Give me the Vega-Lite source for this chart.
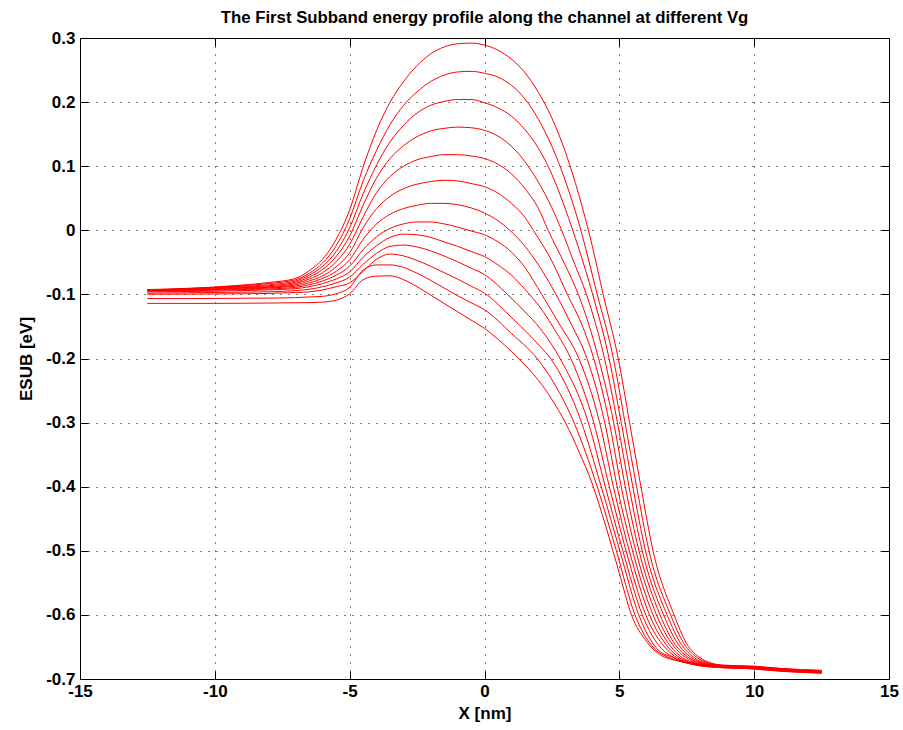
{
"$schema": "https://vega.github.io/schema/vega-lite/v6.json",
"width": 809, "height": 641,
"autosize": {"type": "none"},
"padding": {"left": 80, "top": 38, "right": 14, "bottom": 51},
"background": "white",
"config": {"font": "Liberation Sans", "view": {"stroke": "#000", "strokeWidth": 1}},
"title": {"text": "The First Subband energy profile along the channel at different Vg", "fontSize": 16.8, "fontWeight": "bold", "color": "#000", "anchor": "middle", "frame": "group", "baseline": "alphabetic", "offset": -11},
"data": {"values": [
{"c":1,"x":-12.5,"y":-0.0925},{"c":1,"x":-11,"y":-0.0905},{"c":1,"x":-10,"y":-0.0885},{"c":1,"x":-9,"y":-0.0855},{"c":1,"x":-8,"y":-0.0815},{"c":1,"x":-7,"y":-0.075},{"c":1,"x":-6.5,"y":-0.063},{"c":1,"x":-6,"y":-0.045},{"c":1,"x":-5.5,"y":-0.014},{"c":1,"x":-5,"y":0.032},{"c":1,"x":-4.5,"y":0.099},{"c":1,"x":-4,"y":0.156},{"c":1,"x":-3.5,"y":0.2},{"c":1,"x":-3,"y":0.232},{"c":1,"x":-2.5,"y":0.257},{"c":1,"x":-2,"y":0.275},{"c":1,"x":-1.5,"y":0.286},{"c":1,"x":-1,"y":0.291},{"c":1,"x":-0.5,"y":0.292},{"c":1,"x":0,"y":0.289},{"c":1,"x":0.5,"y":0.281},{"c":1,"x":1,"y":0.267},{"c":1,"x":1.5,"y":0.246},{"c":1,"x":2,"y":0.215},{"c":1,"x":2.5,"y":0.175},{"c":1,"x":3,"y":0.122},{"c":1,"x":3.5,"y":0.055},{"c":1,"x":4,"y":-0.025},{"c":1,"x":4.4,"y":-0.1},{"c":1,"x":4.96,"y":-0.2},{"c":1,"x":5.38,"y":-0.3},{"c":1,"x":5.8,"y":-0.4},{"c":1,"x":6.25,"y":-0.5},{"c":1,"x":7.03,"y":-0.6},{"c":1,"x":7.5,"y":-0.645},{"c":1,"x":8,"y":-0.667},{"c":1,"x":8.4,"y":-0.675},{"c":1,"x":8.9,"y":-0.6785},{"c":1,"x":10,"y":-0.68},{"c":1,"x":11,"y":-0.6835},{"c":1,"x":12.5,"y":-0.6865},
{"c":2,"x":-12.5,"y":-0.093},{"c":2,"x":-11,"y":-0.091},{"c":2,"x":-10,"y":-0.089},{"c":2,"x":-9,"y":-0.0865},{"c":2,"x":-8,"y":-0.083},{"c":2,"x":-7,"y":-0.077},{"c":2,"x":-6.5,"y":-0.067},{"c":2,"x":-6,"y":-0.051},{"c":2,"x":-5.5,"y":-0.024},{"c":2,"x":-5,"y":0.018},{"c":2,"x":-4.5,"y":0.077},{"c":2,"x":-4,"y":0.125},{"c":2,"x":-3.5,"y":0.165},{"c":2,"x":-3,"y":0.195},{"c":2,"x":-2.5,"y":0.216},{"c":2,"x":-2,"y":0.232},{"c":2,"x":-1.5,"y":0.242},{"c":2,"x":-1,"y":0.247},{"c":2,"x":-0.5,"y":0.248},{"c":2,"x":0,"y":0.245},{"c":2,"x":0.5,"y":0.239},{"c":2,"x":1,"y":0.226},{"c":2,"x":1.5,"y":0.205},{"c":2,"x":2,"y":0.173},{"c":2,"x":2.5,"y":0.131},{"c":2,"x":3,"y":0.077},{"c":2,"x":3.5,"y":0.011},{"c":2,"x":4.18,"y":-0.1},{"c":2,"x":4.78,"y":-0.2},{"c":2,"x":5.21,"y":-0.3},{"c":2,"x":5.64,"y":-0.4},{"c":2,"x":6.1,"y":-0.5},{"c":2,"x":6.9,"y":-0.6},{"c":2,"x":7.4,"y":-0.645},{"c":2,"x":7.9,"y":-0.667},{"c":2,"x":8.3,"y":-0.675},{"c":2,"x":8.85,"y":-0.6788},{"c":2,"x":10,"y":-0.6804},{"c":2,"x":11,"y":-0.6839},{"c":2,"x":12.5,"y":-0.6869},
{"c":3,"x":-12.5,"y":-0.093},{"c":3,"x":-11,"y":-0.0915},{"c":3,"x":-10,"y":-0.0895},{"c":3,"x":-9,"y":-0.0875},{"c":3,"x":-8,"y":-0.085},{"c":3,"x":-7,"y":-0.079},{"c":3,"x":-6.5,"y":-0.07},{"c":3,"x":-6,"y":-0.056},{"c":3,"x":-5.5,"y":-0.033},{"c":3,"x":-5,"y":0.004},{"c":3,"x":-4.5,"y":0.057},{"c":3,"x":-4,"y":0.102},{"c":3,"x":-3.5,"y":0.138},{"c":3,"x":-3,"y":0.164},{"c":3,"x":-2.5,"y":0.183},{"c":3,"x":-2,"y":0.195},{"c":3,"x":-1.5,"y":0.201},{"c":3,"x":-1,"y":0.204},{"c":3,"x":-0.5,"y":0.204},{"c":3,"x":0,"y":0.199},{"c":3,"x":0.5,"y":0.191},{"c":3,"x":1,"y":0.178},{"c":3,"x":1.5,"y":0.157},{"c":3,"x":2,"y":0.128},{"c":3,"x":2.5,"y":0.087},{"c":3,"x":3,"y":0.033},{"c":3,"x":3.5,"y":-0.029},{"c":3,"x":4.01,"y":-0.1},{"c":3,"x":4.62,"y":-0.2},{"c":3,"x":5.07,"y":-0.3},{"c":3,"x":5.5,"y":-0.4},{"c":3,"x":5.97,"y":-0.5},{"c":3,"x":6.77,"y":-0.6},{"c":3,"x":7.3,"y":-0.646},{"c":3,"x":7.75,"y":-0.666},{"c":3,"x":8.2,"y":-0.675},{"c":3,"x":8.8,"y":-0.679},{"c":3,"x":10,"y":-0.6808},{"c":3,"x":11,"y":-0.6843},{"c":3,"x":12.5,"y":-0.6873},
{"c":4,"x":-12.5,"y":-0.093},{"c":4,"x":-11,"y":-0.092},{"c":4,"x":-10,"y":-0.09},{"c":4,"x":-9,"y":-0.0885},{"c":4,"x":-8,"y":-0.0865},{"c":4,"x":-7,"y":-0.081},{"c":4,"x":-6.5,"y":-0.073},{"c":4,"x":-6,"y":-0.061},{"c":4,"x":-5.5,"y":-0.041},{"c":4,"x":-5,"y":-0.009},{"c":4,"x":-4.5,"y":0.039},{"c":4,"x":-4,"y":0.082},{"c":4,"x":-3.5,"y":0.112},{"c":4,"x":-3,"y":0.132},{"c":4,"x":-2.5,"y":0.146},{"c":4,"x":-2,"y":0.155},{"c":4,"x":-1.5,"y":0.159},{"c":4,"x":-1,"y":0.161},{"c":4,"x":-0.5,"y":0.16},{"c":4,"x":0,"y":0.156},{"c":4,"x":0.5,"y":0.147},{"c":4,"x":1,"y":0.131},{"c":4,"x":1.5,"y":0.107},{"c":4,"x":2,"y":0.075},{"c":4,"x":2.5,"y":0.035},{"c":4,"x":2.86,"y":0},{"c":4,"x":3.3,"y":-0.048},{"c":4,"x":3.78,"y":-0.1},{"c":4,"x":4.45,"y":-0.2},{"c":4,"x":4.93,"y":-0.3},{"c":4,"x":5.36,"y":-0.4},{"c":4,"x":5.85,"y":-0.5},{"c":4,"x":6.64,"y":-0.6},{"c":4,"x":7.2,"y":-0.647},{"c":4,"x":7.65,"y":-0.666},{"c":4,"x":8.1,"y":-0.675},{"c":4,"x":8.75,"y":-0.6793},{"c":4,"x":10,"y":-0.6811},{"c":4,"x":11,"y":-0.6846},{"c":4,"x":12.5,"y":-0.6876},
{"c":5,"x":-12.5,"y":-0.0935},{"c":5,"x":-11,"y":-0.0925},{"c":5,"x":-10,"y":-0.091},{"c":5,"x":-9,"y":-0.0895},{"c":5,"x":-8,"y":-0.088},{"c":5,"x":-7,"y":-0.083},{"c":5,"x":-6.5,"y":-0.076},{"c":5,"x":-6,"y":-0.066},{"c":5,"x":-5.5,"y":-0.049},{"c":5,"x":-5,"y":-0.022},{"c":5,"x":-4.5,"y":0.021},{"c":5,"x":-4,"y":0.059},{"c":5,"x":-3.5,"y":0.084},{"c":5,"x":-3,"y":0.1},{"c":5,"x":-2.5,"y":0.11},{"c":5,"x":-2,"y":0.115},{"c":5,"x":-1.5,"y":0.118},{"c":5,"x":-1,"y":0.118},{"c":5,"x":-0.5,"y":0.116},{"c":5,"x":0,"y":0.112},{"c":5,"x":0.5,"y":0.103},{"c":5,"x":1,"y":0.088},{"c":5,"x":1.5,"y":0.065},{"c":5,"x":2,"y":0.034},{"c":5,"x":2.36,"y":0},{"c":5,"x":3,"y":-0.055},{"c":5,"x":3.48,"y":-0.1},{"c":5,"x":4.23,"y":-0.2},{"c":5,"x":4.79,"y":-0.3},{"c":5,"x":5.22,"y":-0.4},{"c":5,"x":5.73,"y":-0.5},{"c":5,"x":6.51,"y":-0.6},{"c":5,"x":7.1,"y":-0.648},{"c":5,"x":7.55,"y":-0.666},{"c":5,"x":8,"y":-0.675},{"c":5,"x":8.7,"y":-0.6795},{"c":5,"x":10,"y":-0.6815},{"c":5,"x":11,"y":-0.685},{"c":5,"x":12.5,"y":-0.688},
{"c":6,"x":-12.5,"y":-0.094},{"c":6,"x":-11,"y":-0.093},{"c":6,"x":-10,"y":-0.092},{"c":6,"x":-9,"y":-0.0905},{"c":6,"x":-8,"y":-0.089},{"c":6,"x":-7,"y":-0.085},{"c":6,"x":-6.5,"y":-0.079},{"c":6,"x":-6,"y":-0.071},{"c":6,"x":-5.5,"y":-0.057},{"c":6,"x":-5,"y":-0.035},{"c":6,"x":-4.5,"y":0.004},{"c":6,"x":-4,"y":0.034},{"c":6,"x":-3.5,"y":0.053},{"c":6,"x":-3,"y":0.065},{"c":6,"x":-2.5,"y":0.072},{"c":6,"x":-2,"y":0.076},{"c":6,"x":-1.5,"y":0.078},{"c":6,"x":-1,"y":0.077},{"c":6,"x":-0.5,"y":0.073},{"c":6,"x":0,"y":0.068},{"c":6,"x":0.5,"y":0.058},{"c":6,"x":1,"y":0.042},{"c":6,"x":1.5,"y":0.02},{"c":6,"x":1.81,"y":0},{"c":6,"x":2.5,"y":-0.048},{"c":6,"x":3.07,"y":-0.1},{"c":6,"x":3.6,"y":-0.146},{"c":6,"x":4.05,"y":-0.2},{"c":6,"x":4.63,"y":-0.3},{"c":6,"x":5.07,"y":-0.4},{"c":6,"x":5.61,"y":-0.5},{"c":6,"x":6.38,"y":-0.6},{"c":6,"x":7,"y":-0.648},{"c":6,"x":7.45,"y":-0.666},{"c":6,"x":7.9,"y":-0.675},{"c":6,"x":8.65,"y":-0.6798},{"c":6,"x":10,"y":-0.6819},{"c":6,"x":11,"y":-0.6854},{"c":6,"x":12.5,"y":-0.6884},
{"c":7,"x":-12.5,"y":-0.094},{"c":7,"x":-11,"y":-0.0935},{"c":7,"x":-10,"y":-0.0925},{"c":7,"x":-9,"y":-0.0915},{"c":7,"x":-8,"y":-0.09},{"c":7,"x":-7,"y":-0.087},{"c":7,"x":-6.5,"y":-0.082},{"c":7,"x":-6,"y":-0.075},{"c":7,"x":-5.5,"y":-0.064},{"c":7,"x":-5,"y":-0.046},{"c":7,"x":-4.5,"y":-0.014},{"c":7,"x":-4,"y":0.01},{"c":7,"x":-3.5,"y":0.025},{"c":7,"x":-3,"y":0.034},{"c":7,"x":-2.5,"y":0.039},{"c":7,"x":-2,"y":0.042},{"c":7,"x":-1.5,"y":0.042},{"c":7,"x":-1,"y":0.04},{"c":7,"x":-0.5,"y":0.035},{"c":7,"x":0,"y":0.027},{"c":7,"x":0.5,"y":0.015},{"c":7,"x":0.94,"y":0},{"c":7,"x":1.5,"y":-0.025},{"c":7,"x":2,"y":-0.054},{"c":7,"x":2.65,"y":-0.1},{"c":7,"x":3.2,"y":-0.145},{"c":7,"x":3.8,"y":-0.2},{"c":7,"x":4.46,"y":-0.3},{"c":7,"x":4.92,"y":-0.4},{"c":7,"x":5.49,"y":-0.5},{"c":7,"x":6.25,"y":-0.6},{"c":7,"x":6.9,"y":-0.649},{"c":7,"x":7.35,"y":-0.667},{"c":7,"x":7.8,"y":-0.675},{"c":7,"x":8.6,"y":-0.68},{"c":7,"x":10,"y":-0.6823},{"c":7,"x":11,"y":-0.6858},{"c":7,"x":12.5,"y":-0.6888},
{"c":8,"x":-12.5,"y":-0.095},{"c":8,"x":-11,"y":-0.0945},{"c":8,"x":-10,"y":-0.0935},{"c":8,"x":-9,"y":-0.0925},{"c":8,"x":-8,"y":-0.0915},{"c":8,"x":-7,"y":-0.089},{"c":8,"x":-6.5,"y":-0.085},{"c":8,"x":-6,"y":-0.079},{"c":8,"x":-5.5,"y":-0.07},{"c":8,"x":-5,"y":-0.056},{"c":8,"x":-4.5,"y":-0.03},{"c":8,"x":-4,"y":-0.01},{"c":8,"x":-3.5,"y":0.003},{"c":8,"x":-3,"y":0.01},{"c":8,"x":-2.5,"y":0.013},{"c":8,"x":-2,"y":0.013},{"c":8,"x":-1.5,"y":0.01},{"c":8,"x":-1,"y":0.005},{"c":8,"x":-0.5,"y":-0.001},{"c":8,"x":0,"y":-0.007},{"c":8,"x":0.5,"y":-0.018},{"c":8,"x":1,"y":-0.034},{"c":8,"x":1.5,"y":-0.058},{"c":8,"x":2.12,"y":-0.1},{"c":8,"x":2.8,"y":-0.148},{"c":8,"x":3.5,"y":-0.2},{"c":8,"x":4.27,"y":-0.3},{"c":8,"x":4.78,"y":-0.4},{"c":8,"x":5.37,"y":-0.5},{"c":8,"x":6.12,"y":-0.6},{"c":8,"x":6.8,"y":-0.65},{"c":8,"x":7.25,"y":-0.667},{"c":8,"x":7.7,"y":-0.675},{"c":8,"x":8.55,"y":-0.6803},{"c":8,"x":10,"y":-0.6826},{"c":8,"x":11,"y":-0.6861},{"c":8,"x":12.5,"y":-0.6891},
{"c":9,"x":-12.5,"y":-0.096},{"c":9,"x":-11,"y":-0.0955},{"c":9,"x":-10,"y":-0.095},{"c":9,"x":-9,"y":-0.094},{"c":9,"x":-8,"y":-0.093},{"c":9,"x":-7,"y":-0.091},{"c":9,"x":-6.5,"y":-0.088},{"c":9,"x":-6,"y":-0.083},{"c":9,"x":-5.5,"y":-0.076},{"c":9,"x":-5,"y":-0.065},{"c":9,"x":-4.5,"y":-0.042},{"c":9,"x":-4,"y":-0.024},{"c":9,"x":-3.5,"y":-0.011},{"c":9,"x":-3,"y":-0.006},{"c":9,"x":-2.5,"y":-0.007},{"c":9,"x":-2,"y":-0.011},{"c":9,"x":-1.5,"y":-0.018},{"c":9,"x":-1,"y":-0.025},{"c":9,"x":-0.5,"y":-0.033},{"c":9,"x":0,"y":-0.041},{"c":9,"x":0.5,"y":-0.054},{"c":9,"x":1,"y":-0.07},{"c":9,"x":1.5,"y":-0.092},{"c":9,"x":2.06,"y":-0.12},{"c":9,"x":2.6,"y":-0.155},{"c":9,"x":3.2,"y":-0.2},{"c":9,"x":4.05,"y":-0.3},{"c":9,"x":4.63,"y":-0.4},{"c":9,"x":5.25,"y":-0.5},{"c":9,"x":5.98,"y":-0.6},{"c":9,"x":6.7,"y":-0.651},{"c":9,"x":7.15,"y":-0.667},{"c":9,"x":7.6,"y":-0.675},{"c":9,"x":8.5,"y":-0.6805},{"c":9,"x":10,"y":-0.683},{"c":9,"x":11,"y":-0.6865},{"c":9,"x":12.5,"y":-0.6895},
{"c":10,"x":-12.5,"y":-0.098},{"c":10,"x":-11,"y":-0.0975},{"c":10,"x":-10,"y":-0.097},{"c":10,"x":-9,"y":-0.0965},{"c":10,"x":-8,"y":-0.096},{"c":10,"x":-7,"y":-0.094},{"c":10,"x":-6.5,"y":-0.092},{"c":10,"x":-6,"y":-0.088},{"c":10,"x":-5.5,"y":-0.082},{"c":10,"x":-5,"y":-0.073},{"c":10,"x":-4.5,"y":-0.053},{"c":10,"x":-4,"y":-0.036},{"c":10,"x":-3.5,"y":-0.025},{"c":10,"x":-3,"y":-0.023},{"c":10,"x":-2.5,"y":-0.026},{"c":10,"x":-2,"y":-0.032},{"c":10,"x":-1.5,"y":-0.04},{"c":10,"x":-1,"y":-0.049},{"c":10,"x":-0.5,"y":-0.059},{"c":10,"x":0,"y":-0.069},{"c":10,"x":0.85,"y":-0.1},{"c":10,"x":1.5,"y":-0.127},{"c":10,"x":2.06,"y":-0.153},{"c":10,"x":2.8,"y":-0.2},{"c":10,"x":3.85,"y":-0.3},{"c":10,"x":4.48,"y":-0.4},{"c":10,"x":5.13,"y":-0.5},{"c":10,"x":5.85,"y":-0.6},{"c":10,"x":6.55,"y":-0.652},{"c":10,"x":7.05,"y":-0.667},{"c":10,"x":7.5,"y":-0.675},{"c":10,"x":8.45,"y":-0.6808},{"c":10,"x":10,"y":-0.6834},{"c":10,"x":11,"y":-0.6869},{"c":10,"x":12.5,"y":-0.6899},
{"c":11,"x":-12.5,"y":-0.0997},{"c":11,"x":-11,"y":-0.0995},{"c":11,"x":-10,"y":-0.0993},{"c":11,"x":-9,"y":-0.099},{"c":11,"x":-8,"y":-0.0985},{"c":11,"x":-7,"y":-0.097},{"c":11,"x":-6.5,"y":-0.096},{"c":11,"x":-6,"y":-0.093},{"c":11,"x":-5.5,"y":-0.088},{"c":11,"x":-5,"y":-0.082},{"c":11,"x":-4.5,"y":-0.064},{"c":11,"x":-4,"y":-0.045},{"c":11,"x":-3.5,"y":-0.037},{"c":11,"x":-3,"y":-0.04},{"c":11,"x":-2.5,"y":-0.047},{"c":11,"x":-2,"y":-0.056},{"c":11,"x":-1.5,"y":-0.066},{"c":11,"x":-1,"y":-0.076},{"c":11,"x":-0.5,"y":-0.087},{"c":11,"x":0,"y":-0.098},{"c":11,"x":1,"y":-0.136},{"c":11,"x":2.06,"y":-0.181},{"c":11,"x":2.45,"y":-0.2},{"c":11,"x":3.6,"y":-0.3},{"c":11,"x":4.33,"y":-0.4},{"c":11,"x":5.02,"y":-0.5},{"c":11,"x":5.72,"y":-0.6},{"c":11,"x":6.4,"y":-0.653},{"c":11,"x":6.95,"y":-0.666},{"c":11,"x":7.4,"y":-0.673},{"c":11,"x":8.4,"y":-0.681},{"c":11,"x":10,"y":-0.6838},{"c":11,"x":11,"y":-0.6873},{"c":11,"x":12.5,"y":-0.6903},
{"c":12,"x":-12.5,"y":-0.1065},{"c":12,"x":-11,"y":-0.1065},{"c":12,"x":-10,"y":-0.1063},{"c":12,"x":-9,"y":-0.106},{"c":12,"x":-8,"y":-0.1058},{"c":12,"x":-7,"y":-0.105},{"c":12,"x":-6.5,"y":-0.104},{"c":12,"x":-6,"y":-0.103},{"c":12,"x":-5.5,"y":-0.099},{"c":12,"x":-5,"y":-0.089},{"c":12,"x":-4.5,"y":-0.062},{"c":12,"x":-4,"y":-0.054},{"c":12,"x":-3.5,"y":-0.054},{"c":12,"x":-3,"y":-0.058},{"c":12,"x":-2.5,"y":-0.067},{"c":12,"x":-2,"y":-0.078},{"c":12,"x":-1.5,"y":-0.09},{"c":12,"x":-1,"y":-0.102},{"c":12,"x":-0.5,"y":-0.113},{"c":12,"x":0,"y":-0.124},{"c":12,"x":1,"y":-0.161},{"c":12,"x":1.95,"y":-0.2},{"c":12,"x":2.6,"y":-0.24},{"c":12,"x":3.32,"y":-0.3},{"c":12,"x":4.18,"y":-0.4},{"c":12,"x":4.89,"y":-0.5},{"c":12,"x":5.58,"y":-0.6},{"c":12,"x":6.2,"y":-0.648},{"c":12,"x":6.8,"y":-0.666},{"c":12,"x":7.3,"y":-0.673},{"c":12,"x":8.35,"y":-0.6813},{"c":12,"x":10,"y":-0.6841},{"c":12,"x":11,"y":-0.6876},{"c":12,"x":12.5,"y":-0.6906},
{"c":13,"x":-12.5,"y":-0.114},{"c":13,"x":-11,"y":-0.114},{"c":13,"x":-10,"y":-0.114},{"c":13,"x":-9,"y":-0.1138},{"c":13,"x":-8,"y":-0.1135},{"c":13,"x":-7,"y":-0.113},{"c":13,"x":-6.5,"y":-0.1128},{"c":13,"x":-6,"y":-0.112},{"c":13,"x":-5.5,"y":-0.109},{"c":13,"x":-5,"y":-0.099},{"c":13,"x":-4.5,"y":-0.077},{"c":13,"x":-4,"y":-0.0715},{"c":13,"x":-3.5,"y":-0.071},{"c":13,"x":-3,"y":-0.077},{"c":13,"x":-2.5,"y":-0.088},{"c":13,"x":-2,"y":-0.101},{"c":13,"x":-1.5,"y":-0.114},{"c":13,"x":-1,"y":-0.127},{"c":13,"x":-0.5,"y":-0.14},{"c":13,"x":0,"y":-0.153},{"c":13,"x":0.5,"y":-0.17},{"c":13,"x":1,"y":-0.189},{"c":13,"x":1.5,"y":-0.21},{"c":13,"x":2,"y":-0.234},{"c":13,"x":2.5,"y":-0.264},{"c":13,"x":3,"y":-0.3},{"c":13,"x":3.5,"y":-0.345},{"c":13,"x":4,"y":-0.396},{"c":13,"x":4.5,"y":-0.462},{"c":13,"x":5,"y":-0.535},{"c":13,"x":5.45,"y":-0.6},{"c":13,"x":6,"y":-0.641},{"c":13,"x":6.5,"y":-0.662},{"c":13,"x":7,"y":-0.67},{"c":13,"x":7.75,"y":-0.676},{"c":13,"x":8.6,"y":-0.6815},{"c":13,"x":10,"y":-0.6845},{"c":13,"x":11,"y":-0.688},{"c":13,"x":12.5,"y":-0.691}
]},
"layer": [
{"mark": {"type": "line", "color": "#ff0000", "strokeWidth": 1, "interpolate": "monotone"},
 "encoding": {
  "x": {"field": "x", "type": "quantitative", "scale": {"domain": [-15, 15], "nice": false, "zero": false},
        "axis": {"orient": "bottom", "values": [-15, -10, -5, 0, 5, 10, 15], "labelExpr": "replace(format(datum.value, 'd'), '\u2212', '-')", "labelFlush": false,
                 "grid": true, "gridColor": "#000", "gridDash": [1, 7], "gridOpacity": 1, "gridWidth": 1,
                 "domain": false, "ticks": true, "tickSize": -8, "tickColor": "#000", "tickWidth": 1,
                 "labelFontSize": 17, "labelFontWeight": "bold", "labelColor": "#000", "labelPadding": 12,
                 "title": "X [nm]", "titleFontSize": 17, "titleFontWeight": "bold", "titleColor": "#000", "titlePadding": 6}},
  "y": {"field": "y", "type": "quantitative", "scale": {"domain": [-0.7, 0.3], "nice": false, "zero": false},
        "axis": {"orient": "left", "values": [-0.7, -0.6, -0.5, -0.4, -0.3, -0.2, -0.1, 0, 0.1, 0.2, 0.3], "labelExpr": "replace(format(datum.value, '.1~f'), '\u2212', '-')", "labelFlush": false,
                 "grid": true, "gridColor": "#000", "gridDash": [1, 7], "gridOpacity": 1, "gridWidth": 1,
                 "domain": false, "ticks": true, "tickSize": -8, "tickColor": "#000", "tickWidth": 1,
                 "labelFontSize": 17, "labelFontWeight": "bold", "labelColor": "#000", "labelPadding": 13,
                 "title": "ESUB [eV]", "titleFontSize": 17, "titleFontWeight": "bold", "titleColor": "#000", "titlePadding": 10}},
  "detail": {"field": "c", "type": "nominal"}
 }},
{"mark": {"type": "line", "opacity": 0},
 "encoding": {
  "x": {"field": "x", "type": "quantitative", "axis": {"orient": "top", "values": [-15, -10, -5, 0, 5, 10, 15], "labels": false, "grid": false, "domain": false, "tickSize": -8, "tickColor": "#000", "title": null, "minExtent": 0, "maxExtent": 0}},
  "y": {"field": "y", "type": "quantitative", "axis": {"orient": "right", "values": [-0.7, -0.6, -0.5, -0.4, -0.3, -0.2, -0.1, 0, 0.1, 0.2, 0.3], "labels": false, "grid": false, "domain": false, "tickSize": -8, "tickColor": "#000", "title": null, "minExtent": 0, "maxExtent": 0}},
  "detail": {"field": "c", "type": "nominal"}
 }}
],
"resolve": {"axis": {"x": "independent", "y": "independent"}}
}
